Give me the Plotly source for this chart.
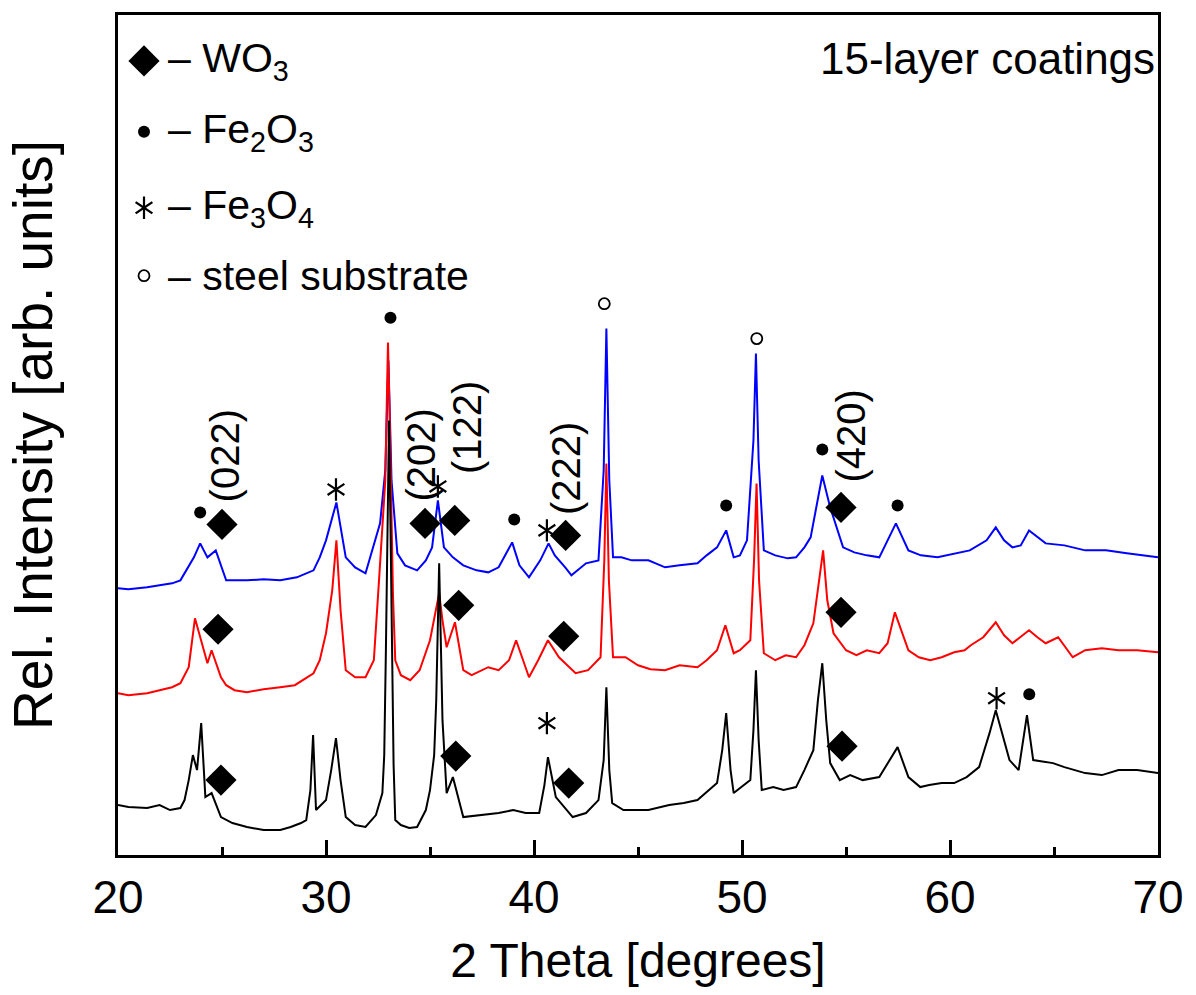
import plotly.graph_objects as go

# 2-theta positions (degrees) and relative intensities (arb. units) of the three patterns
tt_wo3 = [20.0, 20.5, 21.4, 22.0, 22.5, 23.0, 23.2, 23.4, 23.6, 23.8, 24.0, 24.2, 24.5, 24.95,
          25.5, 26.2, 27.0, 27.8, 28.3, 28.8, 29.05, 29.25, 29.38, 29.52, 30.0, 30.25, 30.48,
          30.7, 30.95, 31.4, 31.9, 32.4, 32.71, 32.8, 32.88, 32.95, 33.03, 33.1, 33.17, 33.25,
          33.33, 33.6, 34.0, 34.38, 34.8, 35.0, 35.2, 35.3, 35.44, 35.6, 35.8, 36.1, 36.6, 37.5,
          38.3, 39.0, 39.6, 40.25, 40.5, 40.67, 41.05, 41.86, 42.5, 43.1, 43.35, 43.48, 43.62,
          43.76, 44.3, 45.5, 46.5, 47.2, 47.86, 48.8, 49.05, 49.24, 49.45, 49.6, 50.4, 50.55,
          50.67, 50.8, 50.95, 51.5, 52.0, 52.6, 53.0, 53.43, 53.65, 53.86, 54.05, 54.24, 54.7,
          55.2, 55.8, 56.6, 57.0, 57.48, 58.0, 58.57, 59.0, 59.6, 60.2, 60.8, 61.4, 61.9, 62.2,
          62.5, 62.86, 63.3, 63.5, 63.7, 64.0, 64.95, 65.5, 66.5, 67.3, 68.1, 69.0, 70.0]
int_wo3 = [50, 48, 47, 50, 45, 47, 55, 75, 100, 85, 132, 58, 62, 38,
           32, 28, 25, 25, 28, 32, 35, 65, 120, 45, 55, 85, 117,
           75, 38, 30, 28, 40, 62, 100, 205, 330, 435, 330, 205, 90,
           35, 30, 27, 28, 45, 65, 100, 155, 292, 135, 62, 78, 38, 40,
           42, 45, 42, 42, 70, 98, 58, 38, 42, 55, 95, 168, 85,
           52, 45, 45, 50, 52, 55, 72, 105, 142, 85, 62, 75, 125,
           185, 115, 65, 68, 65, 68, 85, 105, 155, 192, 135, 92, 75,
           80, 75, 78, 92, 108, 78, 68, 70, 72, 72, 78, 88, 122, 145,
           122, 95, 85, 115, 140, 95, 92, 88, 82, 80, 85, 85, 82]

tt_pva = [20.0, 20.5, 21.4, 22.0, 22.6, 23.0, 23.4, 23.7, 24.0, 24.3, 24.5, 24.95, 25.2, 25.6,
          26.2, 27.0, 27.8, 28.5, 29.4, 29.7, 30.0, 30.3, 30.5, 30.7, 30.95, 31.4, 31.9, 32.3,
          32.57, 32.85, 32.92, 32.98, 33.05, 33.12, 33.22, 33.33, 33.6, 34.05, 34.5, 35.0, 35.25,
          35.44, 35.6, 35.8, 36.2, 36.6, 37.0, 37.8, 38.3, 38.8, 39.14, 39.76, 40.2, 40.67, 41.2,
          41.6, 42.0, 42.6, 43.2, 43.38, 43.48, 43.6, 43.8, 44.4, 45.0, 45.6, 46.3, 47.0, 47.86,
          48.3, 48.8, 49.2, 49.6, 49.9, 50.4, 50.58, 50.7, 50.82, 51.05, 51.6, 52.1, 52.6, 53.0,
          53.43, 53.7, 53.9, 54.1, 54.4, 55.0, 55.5, 56.0, 56.6, 57.0, 57.35, 58.0, 58.5, 59.05,
          59.6, 60.2, 60.7, 61.0, 61.6, 62.2, 62.6, 63.0, 63.8, 64.2, 64.6, 65.2, 65.9, 66.5,
          67.3, 68.1, 69.0, 70.0]
int_pva = [162, 160, 162, 165, 168, 172, 188, 237, 215, 192, 205, 178, 170, 165,
           163, 166, 168, 170, 182, 195, 222, 265, 315, 245, 185, 178, 178, 195,
           282, 375, 450, 513, 450, 355, 260, 195, 180, 175, 185, 215, 240,
           262, 235, 208, 233, 185, 180, 188, 185, 195, 215, 178, 195, 215, 198,
           190, 182, 185, 198, 295, 392, 275, 198, 198, 190, 186, 185, 190, 188,
           195, 205, 230, 202, 205, 215, 295, 372, 275, 202, 195, 200, 198, 210,
           232, 275, 305, 255, 222, 205, 200, 205, 202, 212, 243, 205, 198, 195,
           198, 203, 205, 210, 218, 233, 220, 212, 225, 218, 212, 218, 198, 205,
           207, 205, 205, 203]

tt_mo = [20.0, 20.5, 21.4, 22.0, 22.6, 23.0, 23.3, 23.65, 23.95, 24.3, 24.7, 25.2, 26.2, 27.0,
         27.8, 28.6, 29.4, 29.7, 30.0, 30.5, 30.95, 31.4, 31.9, 32.6, 32.85, 32.93, 33.0, 33.07,
         33.15, 33.43, 33.8, 34.38, 34.8, 35.1, 35.38, 35.67, 36.1, 36.6, 37.24, 37.8, 38.3,
         38.95, 39.3, 39.76, 40.3, 40.7, 41.0, 41.5, 41.8, 42.5, 43.1, 43.35, 43.48, 43.62, 43.8,
         44.2, 44.7, 45.5, 46.3, 47.0, 47.86, 48.3, 48.8, 49.24, 49.6, 49.9, 50.24, 50.55, 50.67,
         50.8, 51.05, 51.6, 52.2, 52.6, 53.0, 53.3, 53.86, 54.24, 54.86, 55.4, 56.0, 56.6, 57.0,
         57.4, 58.0, 58.6, 59.4, 60.3, 60.95, 61.76, 62.2, 62.6, 63.0, 63.4, 63.8, 64.6, 65.5,
         66.5, 67.5, 68.5, 69.3, 70.0]
int_mo = [267, 266, 268, 270, 272, 275, 285, 298, 312, 298, 305, 275, 275, 276,
          275, 278, 285, 298, 315, 353, 298, 288, 282, 332, 385, 450, 495, 440,
          375, 302, 290, 285, 295, 308, 355, 308, 298, 290, 285, 283, 288,
          313, 290, 278, 295, 312, 300, 288, 280, 292, 295, 385, 527, 375, 298,
          298, 295, 295, 288, 290, 292, 300, 308, 325, 298, 300, 315, 415, 502,
          395, 305, 300, 297, 298, 308, 318, 380, 348, 308, 303, 300, 298, 315,
          332, 305, 300, 298, 302, 305, 315, 328, 315, 308, 310, 325, 312, 310,
          305, 305, 302, 300, 298]

# phase markers: (2-theta, intensity)
wo3_marks = [(25.0, 331), (34.76, 332), (36.19, 335), (41.52, 320), (54.76, 348),
             (24.81, 226), (36.38, 250), (41.43, 219), (54.76, 243),
             (24.95, 75), (36.24, 99), (41.67, 72), (54.81, 109)]
fe2o3_marks = [(23.95, 343), (33.1, 538), (39.05, 336), (49.24, 350), (53.86, 406),
               (57.48, 350), (63.81, 161)]
fe3o4_marks = [(30.48, 366), (35.38, 369), (40.62, 325), (40.62, 132), (62.24, 157)]
steel_marks = [(43.38, 552), (50.71, 517)]

# Miller indices of WO3 reflections: (label, 2-theta, intensity)
hkl_labels = [("(022)", 25.19, 400), ("(202)", 34.57, 400), ("(122)", 36.76, 428),
              ("(222)", 41.57, 387), ("(420)", 55.24, 420)]

# sample names: (label, intensity)
sample_labels = [("WO<sub>3</sub>:Mo", 379), ("WO<sub>3</sub> (PVA)", 255), ("WO<sub>3</sub>", 145)]

FONT = "Liberation Sans, Arial, sans-serif"

fig = go.Figure()
fig.add_trace(go.Scatter(x=tt_mo, y=int_mo, mode="lines", line=dict(color="#0000ff", width=2)))
fig.add_trace(go.Scatter(x=tt_pva, y=int_pva, mode="lines", line=dict(color="#ff0000", width=2)))
fig.add_trace(go.Scatter(x=tt_wo3, y=int_wo3, mode="lines", line=dict(color="#000000", width=2)))


def add_marks(points, symbol, size, line_w=0):
    fig.add_trace(go.Scatter(
        x=[p[0] for p in points], y=[p[1] for p in points], mode="markers",
        marker=dict(symbol=symbol, size=size, color="black",
                    line=dict(color="black", width=line_w))))


# key in the upper left corner: symbol position and text row
key_x = 21.25
key_rows = [(795, "– WO<sub>3</sub>"),
            (724, "– Fe<sub>2</sub>O<sub>3</sub>"),
            (648, "– Fe<sub>3</sub>O<sub>4</sub>"),
            (580, "– steel substrate")]

add_marks(wo3_marks + [(key_x, 795)], "diamond", 24)
add_marks(fe2o3_marks + [(key_x, 724)], "circle", 12)
star = fe3o4_marks + [(key_x, 648)]
add_marks(star, "y-up-open", 14, 2.2)
add_marks(star, "y-down-open", 14, 2.2)
add_marks(steel_marks + [(key_x, 580)], "circle-open", 11, 1.8)

for yv, txt in key_rows:
    fig.add_annotation(x=22.3, y=yv, text=txt, xanchor="left", yanchor="middle",
                       showarrow=False, font=dict(family=FONT, size=41, color="black"))

fig.add_annotation(x=69.95, y=797, text="15-layer coatings", xanchor="right", yanchor="middle",
                   showarrow=False, font=dict(family=FONT, size=44, color="black"))

for txt, xv, yv in hkl_labels:
    fig.add_annotation(x=xv, y=yv, text=txt, textangle=-90, xanchor="center", yanchor="middle",
                       showarrow=False, font=dict(family=FONT, size=40, color="black"))

for txt, yv in sample_labels:
    fig.add_annotation(x=70.05, y=yv, text=txt, xanchor="right", yanchor="middle",
                       showarrow=False, font=dict(family=FONT, size=41, color="black"))

fig.update_layout(
    width=1196, height=995,
    margin=dict(l=118, r=28, t=14, b=140),
    paper_bgcolor="white", plot_bgcolor="white",
    showlegend=False,
    font=dict(family=FONT, size=40, color="black"),
    xaxis=dict(range=[20, 70], dtick=10, tick0=20, ticks="inside", ticklen=15, tickwidth=2.5,
               tickcolor="black", showline=True, linewidth=2.5, linecolor="black", mirror=True,
               showgrid=False, zeroline=False,
               minor=dict(dtick=5, ticks="inside", ticklen=8, tickwidth=2.5, tickcolor="black"),
               tickfont=dict(family=FONT, size=46),
               title=dict(text="2 Theta [degrees]", font=dict(family=FONT, size=48), standoff=22)),
    yaxis=dict(range=[0, 841], showticklabels=False, ticks="", showline=True, linewidth=2.5,
               linecolor="black", mirror=True, showgrid=False, zeroline=False,
               title=dict(text="Rel. Intensity [arb. units]", font=dict(family=FONT, size=55),
                          standoff=46)),
)

fig.write_html("out.html")
